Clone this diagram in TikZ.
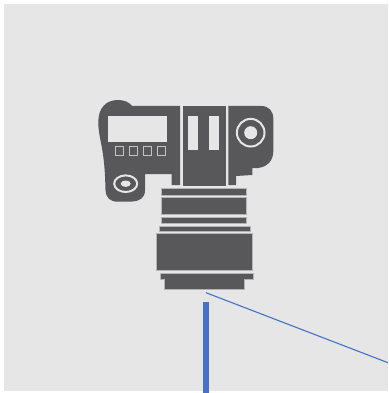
\documentclass[tikz,border=0pt]{standalone}
\usepackage{tikz}
\definecolor{camgrey}{RGB}{88,88,90}
\definecolor{camlight}{RGB}{230,230,230}
\definecolor{rayblue}{RGB}{68,114,196}
\begin{document}
\begin{tikzpicture}[
  x=1pt, y=-1pt,
  body/.style={fill=camgrey, draw=none},
  ring/.style={fill=camgrey, draw=camgrey!35!camlight, line width=0.8pt},
  cutout/.style={fill=camlight, draw=none},
  keybox/.style={draw=camgrey!25!camlight, line width=0.9pt, fill=none},
  ray/.style={rayblue},
]
\useasboundingbox (0,0) rectangle (388,393);
\fill[white] (0,0) rectangle (388,393);
\fill[camlight] (4,4) rectangle (388,391);
% camera body
\fill[body] (98.3,122) .. controls (98.3,108) and (106,100) .. (118,100)
  .. controls (124,100) and (129,102) .. (132,106) -- (180,106) -- (180,185) -- (171.7,185)
  -- (171.7,174) -- (145,174) -- (145,190) .. controls (145,198) and (140,201) .. (132,201.5)
  -- (118,201.7) .. controls (110,201.7) and (106,198) .. (105.5,190)
  .. controls (105,170) and (104,158) .. (101,143) .. controls (99.5,135) and (98.3,130) .. (98.3,122) -- cycle;
\fill[body] (182.7,106) rectangle (225.7,185.7);
\fill[body] (228.3,106) -- (261,106) .. controls (269,106) and (273.3,111) .. (273.3,119)
  -- (273.3,151) .. controls (273.3,161) and (267,167) .. (258,168) -- (252.3,168) -- (252.3,175)
  -- (236,176) -- (236,185) -- (228.3,185) -- cycle;
\fill[cutout] (108.3,115.7) rectangle (166.7,142);
\foreach \keyx in {115.7,129.3,143.3,157.3}
  \draw[keybox] (\keyx,146.9) rectangle +(8,9);
\fill[cutout] (187.7,115.7) rectangle (197.7,150);
\fill[cutout] (209.3,115.7) rectangle (219,150);
% dial and eyepiece
\draw[camlight, line width=2pt] (250.7,132.7) circle (13.8);
\fill[cutout] (250.7,132.7) circle (6.5);
\draw[camlight, line width=2pt] (125.7,183.7) ellipse (11.5 and 8.3);
\fill[cutout] (125.7,183.7) ellipse (5 and 3.2);
% lens barrel
\draw[ring] (161.7,188) rectangle (246.7,195);
\draw[ring] (161.7,197.3) rectangle (246.7,214.3);
\draw[ring] (161.7,217.7) rectangle (246.7,223.3);
\draw[ring] (159.3,226) rectangle (250.7,231.3);
\draw[ring] (156.7,233.3) rectangle (252.7,270.3);
\draw[ring] (160,273) -- (253.3,273) -- (253.3,279) -- (244.3,279) -- (244.3,289)
  -- (164,289) -- (164,279) -- (160,279) -- cycle;
% optical axis and ray
\coordinate (axistop) at (206.3,301.7);
\coordinate (axisend) at (206.3,393);
\coordinate (raystart) at (206,292.7);
\coordinate (rayend) at (388,362.7);
\draw[ray, line width=6pt] (axistop) -- (axisend);
\draw[ray, line width=1.1pt] (raystart) -- (rayend);
\end{tikzpicture}
\end{document}
